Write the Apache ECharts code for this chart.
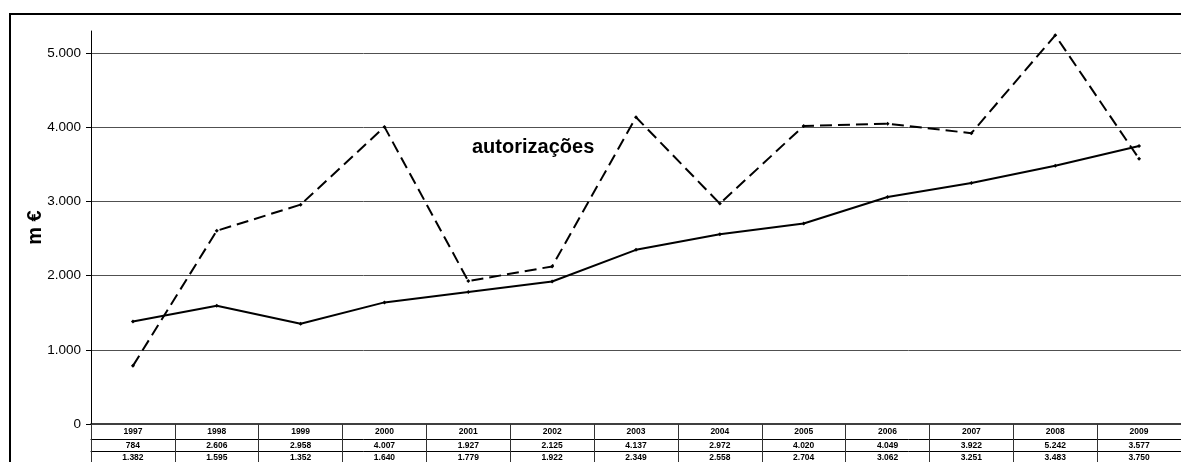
<!DOCTYPE html>
<html>
<head>
<meta charset="utf-8">
<script src="https://cdn.jsdelivr.net/npm/echarts@6/dist/echarts.min.js"></script>
<style>
  html, body { margin: 0; padding: 0; background: #fff; }
  #chart { width: 1181px; height: 462px; }
</style>
</head>
<body>
<div id="chart"></div>
<script>
// ---- data ----
const years = ['1997','1998','1999','2000','2001','2002','2003','2004','2005','2006','2007','2008','2009'];
const autorizacoes = [784, 2606, 2958, 4007, 1927, 2125, 4137, 2972, 4020, 4049, 3922, 5242, 3577];
const pagamentos = [1382, 1595, 1352, 1640, 1779, 1922, 2349, 2558, 2704, 3062, 3251, 3483, 3750];
const yTicks = [0, 1000, 2000, 3000, 4000, 5000];
const yAxisName = 'm €';
const annotation = 'autorizações';

function fmt(v) {
  return String(v).replace(/\B(?=(\d{3})+(?!\d))/g, '.');
}

const FONT = '"Liberation Sans", Arial, sans-serif';
const tableLabel = (m) => ({ fontSize: 8.5, fontWeight: 'bold', color: '#000', fontFamily: FONT, margin: m, interval: 0 });

const chart = echarts.init(document.getElementById('chart'), null, { renderer: 'canvas' });
chart.setOption({
  animation: false,
  backgroundColor: '#fff',
  grid: { left: 91, top: 31, right: -5, bottom: 37, containLabel: false },
  xAxis: [
    {
      type: 'category', data: years, position: 'bottom', offset: 0, boundaryGap: true,
      axisLine: { show: true, lineStyle: { color: '#000', width: 1.5 } },
      axisTick: { show: true, interval: 0, length: 16, lineStyle: { color: '#333' } },
      axisLabel: tableLabel(3.5)
    },
    {
      type: 'category', data: autorizacoes.map(fmt), position: 'bottom', offset: 15.5, boundaryGap: true,
      axisLine: { show: true, lineStyle: { color: '#000', width: 1 } },
      axisTick: { show: true, interval: 0, length: 12, lineStyle: { color: '#333' } },
      axisLabel: tableLabel(2)
    },
    {
      type: 'category', data: pagamentos.map(fmt), position: 'bottom', offset: 27, boundaryGap: true,
      axisLine: { show: true, lineStyle: { color: '#000', width: 1 } },
      axisTick: { show: true, interval: 0, length: 14, lineStyle: { color: '#333' } },
      axisLabel: tableLabel(2)
    }
  ],
  yAxis: {
    type: 'value', min: 0, max: 5300, interval: 1000,
    name: yAxisName, nameLocation: 'middle', nameGap: 46, nameRotate: 90,
    nameMoveOverlap: false,
    nameTextStyle: { fontSize: 20, fontWeight: 'bold', color: '#000', fontFamily: FONT },
    axisLine: { show: true, lineStyle: { color: '#000', width: 1 } },
    axisTick: { show: true, length: 5, customValues: yTicks, lineStyle: { color: '#000' } },
    axisLabel: {
      customValues: yTicks, margin: 10,
      formatter: (v) => fmt(v),
      fontSize: 13.5, color: '#000', fontFamily: FONT
    },
    splitLine: { show: true, showMinLine: false, lineStyle: { color: '#505050', width: 1 } }
  },
  series: [
    {
      name: 'autorizações', type: 'line', data: autorizacoes, xAxisIndex: 0,
      symbol: 'diamond', symbolSize: 4,
      lineStyle: { color: '#000', width: 2, type: [12, 6] },
      itemStyle: { color: '#000' }
    },
    {
      name: 'pagamentos', type: 'line', data: pagamentos, xAxisIndex: 0,
      symbol: 'diamond', symbolSize: 4,
      lineStyle: { color: '#000', width: 2 },
      itemStyle: { color: '#000' }
    }
  ],
  graphic: [
    {
      type: 'rect', silent: true, z: 100,
      shape: { x: 10, y: 14, width: 1300, height: 600 },
      style: { fill: null, stroke: '#000', lineWidth: 2 }
    },
    {
      type: 'text', left: 472, top: 137, z: 100,
      style: { text: annotation, font: 'bold 20px ' + FONT, fill: '#000' }
    }
  ]
});
</script>
</body>
</html>
